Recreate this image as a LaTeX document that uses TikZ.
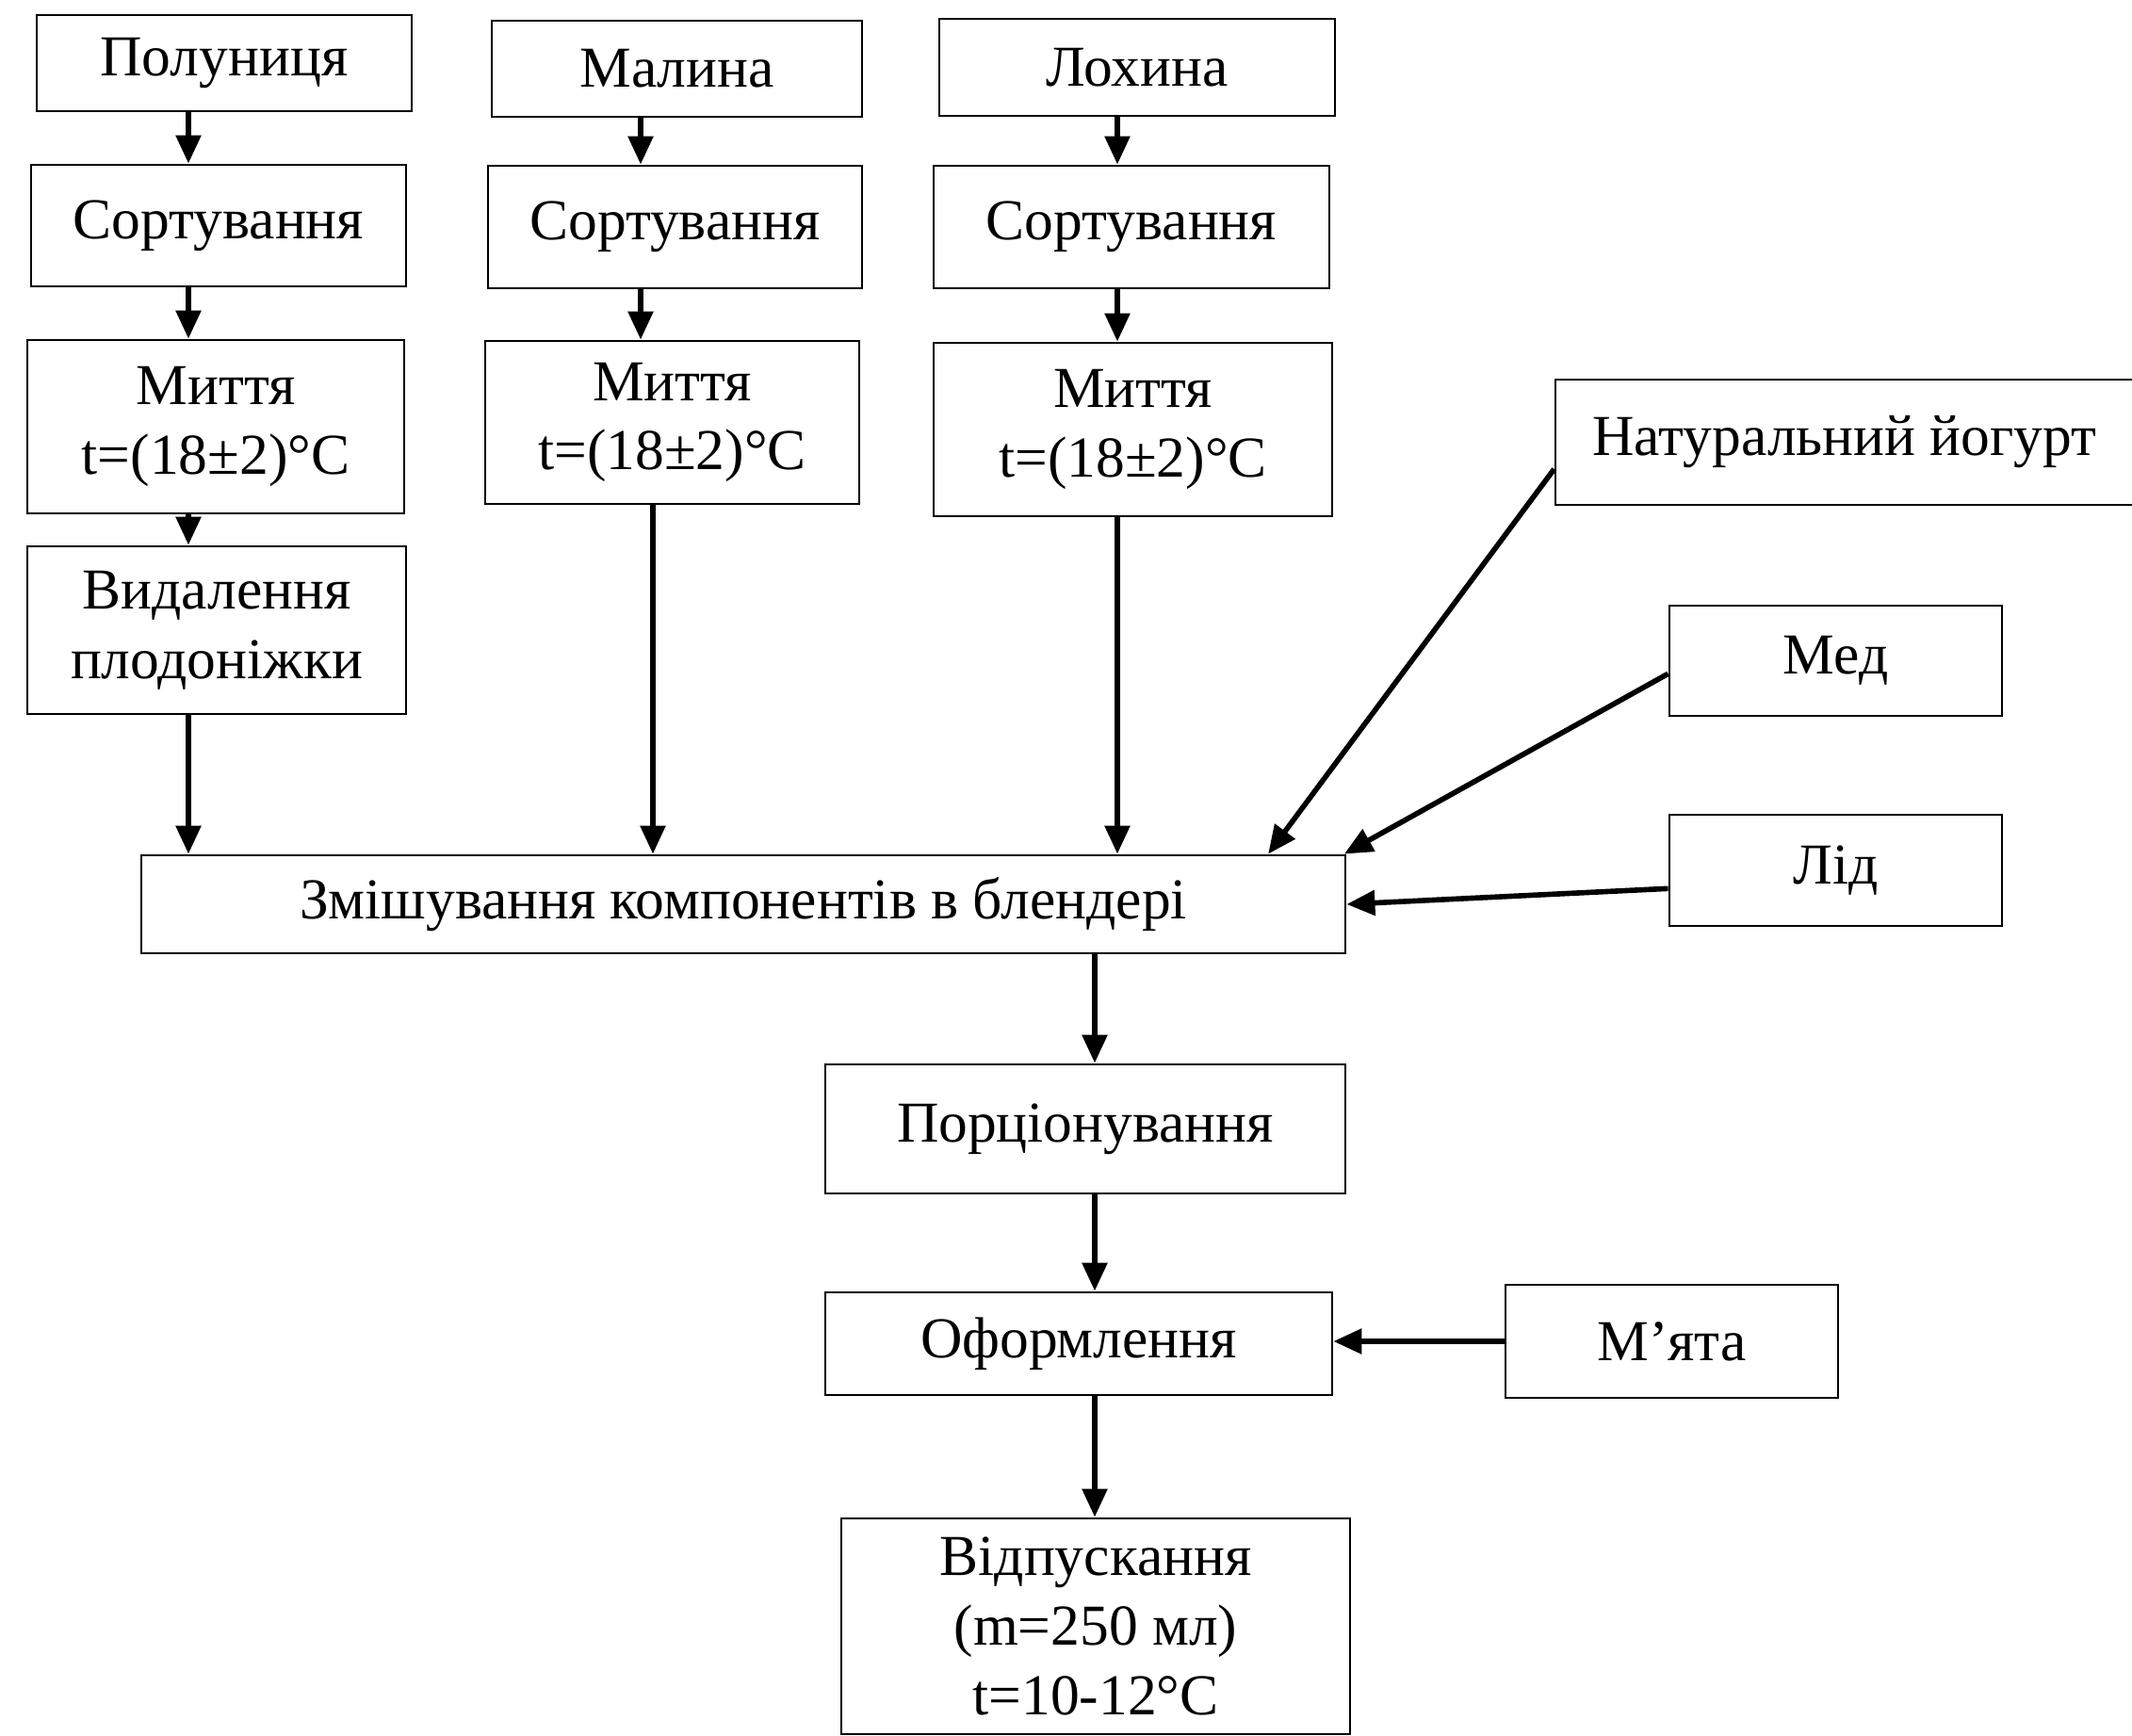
\documentclass[tikz,border=0pt]{standalone}
\usepackage{fontspec}
\setmainfont{Liberation Serif}
\usepackage{tikz}
\usetikzlibrary{
  positioning,
  calc,
  arrows.meta
}
\tikzstyle{stage}=[draw, rectangle, line width=0.8pt, inner sep=0pt, align=center, font=\fontsize{17.5}{21}\selectfont]
\tikzstyle{flow}=[-{Triangle[length=0.3cm, width=0.26cm]}, line width=1.6pt]

\begin{document}
\begin{tikzpicture}
      \useasboundingbox (0,0) rectangle (22.63,-18.43);

      % сировина
      \node[stage, minimum width=3.98cm, minimum height=1.02cm] (polun) at (2.38,-0.67) {Полуниця};
      \node[stage, minimum width=3.93cm, minimum height=1.02cm] (malyna) at (7.185,-0.73) {Малина};
      \node[stage, minimum width=4.20cm, minimum height=1.03cm] (lokhyna) at (12.07,-0.715) {Лохина};

      % сортування
      \node[stage, minimum width=3.98cm, minimum height=1.29cm] (sort1) at (2.32,-2.395) {Сортування};
      \node[stage, minimum width=3.97cm, minimum height=1.30cm] (sort2) at (7.165,-2.41) {Сортування};
      \node[stage, minimum width=4.20cm, minimum height=1.30cm] (sort3) at (12.01,-2.41) {Сортування};

      % миття
      \node[stage, minimum width=4.00cm, minimum height=1.84cm] (myt1) at (2.29,-4.53) {Миття\\t=(18±2)°C};
      \node[stage, minimum width=3.97cm, minimum height=1.73cm] (myt2) at (7.135,-4.485) {Миття\\t=(18±2)°C};
      \node[stage, minimum width=4.23cm, minimum height=1.84cm] (myt3) at (12.025,-4.56) {Миття\\t=(18±2)°C};

      % видалення плодоніжки
      \node[stage, minimum width=4.02cm, minimum height=1.78cm] (vydal) at (2.30,-6.69) {Видалення\\плодоніжки};

      % інші компоненти
      \node[stage, minimum width=6.14cm, minimum height=1.33cm] (yogurt) at (19.58,-4.695) {Натуральний йогурт};
      \node[stage, minimum width=3.53cm, minimum height=1.17cm] (med) at (19.485,-7.015) {Мед};
      \node[stage, minimum width=3.53cm, minimum height=1.18cm] (lid) at (19.485,-9.24) {Лід};

      % подальші етапи
      \node[stage, minimum width=12.78cm, minimum height=1.04cm] (zmish) at (7.89,-9.60) {Змішування компонентів в блендері};
      \node[stage, minimum width=5.52cm, minimum height=1.37cm] (porc) at (11.52,-11.985) {Порціонування};
      \node[stage, minimum width=5.38cm, minimum height=1.09cm] (oform) at (11.45,-14.265) {Оформлення};
      \node[stage, minimum width=3.53cm, minimum height=1.20cm] (myata) at (17.745,-14.24) {М’ята};
      \node[stage, minimum width=5.40cm, minimum height=2.29cm] (vidp) at (11.63,-17.265) {Відпускання\\(m=250 мл)\\t=10-12°C};

      % вертикалі потоків
      \coordinate (c1) at (2.00,0);
      \coordinate (c2) at (6.80,0);
      \coordinate (c2b) at (6.93,0);
      \coordinate (c3) at (11.86,0);
      \coordinate (c4) at (11.62,0);

      % полуниця
      \draw[flow] (polun.south -| c1) -- (sort1.north -| c1);
      \draw[flow] (sort1.south -| c1) -- (myt1.north -| c1);
      \draw[flow] (myt1.south -| c1) -- (vydal.north -| c1);
      \draw[flow] (vydal.south -| c1) -- (zmish.north -| c1);

      % малина
      \draw[flow] (malyna.south -| c2) -- (sort2.north -| c2);
      \draw[flow] (sort2.south -| c2) -- (myt2.north -| c2);
      \draw[flow] (myt2.south -| c2b) -- (zmish.north -| c2b);

      % лохина
      \draw[flow] (lokhyna.south -| c3) -- (sort3.north -| c3);
      \draw[flow] (sort3.south -| c3) -- (myt3.north -| c3);
      \draw[flow] (myt3.south -| c3) -- (zmish.north -| c3);

      % добавки до змішування
      \draw[flow] ($(yogurt.south west)!0.29!(yogurt.north west)$) -- ($(zmish.north west)!0.935!(zmish.north east)$);
      \draw[flow] ($(med.south west)!0.385!(med.north west)$) -- ($(zmish.north west)!0.998!(zmish.north east)$);
      \draw[flow] ($(lid.south west)!0.34!(lid.north west)$) -- (zmish.east);

      % після змішування
      \draw[flow] (zmish.south -| c4) -- (porc.north -| c4);
      \draw[flow] (porc.south -| c4) -- (oform.north -| c4);
      \draw[flow] (oform.south -| c4) -- (vidp.north -| c4);
      \draw[flow] (myata.west) -- (myata.west -| oform.east);
    \end{tikzpicture}
\end{document}
